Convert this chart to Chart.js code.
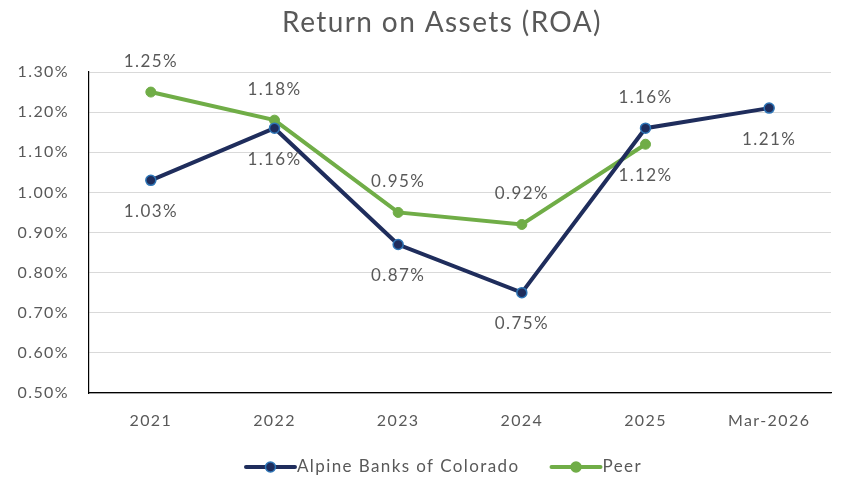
<!DOCTYPE html>
<html>
<head>
<meta charset="utf-8">
<script src="https://cdn.jsdelivr.net/npm/chart.js@4"></script>
<style>
  html, body { margin: 0; padding: 0; background: #fff; }
  #wrap { width: 852px; height: 481px; }
</style>
</head>
<body>
<div id="wrap"><canvas id="myChart" width="852" height="481"></canvas></div>
<script>
const labels = ['2021', '2022', '2023', '2024', '2025', 'Mar-2026'];
const alpine = [1.03, 1.16, 0.87, 0.75, 1.16, 1.21];
const peer = [1.25, 1.18, 0.95, 0.92, 1.12, null];

// label placement: -1 above the point, 1 below
const alpineLabelSide = [1, 1, 1, 1, -1, 1];
const peerLabelSide = [-1, -1, -1, -1, 1, 1];

const chartTitle = 'Return on Assets (ROA)';
const navy = '#1f2d5c';
const green = '#70ad47';
const grey = '#595959';
const font = 'Lato, "Open Sans", sans-serif';
const spacing = '1.4px';

// the original text is tracked out a little, canvas can do that too
const tracking = {
    id: 'tracking',
    beforeDraw(chart) {
        chart.ctx.letterSpacing = spacing;
    }
};

const pointLabels = {
    id: 'pointLabels',
    afterDatasetsDraw(chart) {
        const ctx = chart.ctx;
        ctx.save();
        ctx.letterSpacing = spacing;
        ctx.font = '17px ' + font;
        ctx.fillStyle = grey;
        ctx.textAlign = 'center';
        ctx.textBaseline = 'middle';
        chart.data.datasets.forEach((ds, i) => {
            const meta = chart.getDatasetMeta(i);
            const sides = i === 0 ? alpineLabelSide : peerLabelSide;
            meta.data.forEach((pt, j) => {
                const v = ds.data[j];
                if (v === null || v === undefined) return;
                ctx.fillText(v.toFixed(2) + '%', pt.x, pt.y + sides[j] * 31);
            });
        });
        ctx.restore();
    }
};

// title and legend drawn by hand so they sit where the original has them
const titleAndLegend = {
    id: 'titleAndLegend',
    afterDraw(chart) {
        const ctx = chart.ctx;
        ctx.save();
        ctx.letterSpacing = spacing;
        ctx.fillStyle = grey;
        ctx.textBaseline = 'middle';
        ctx.textAlign = 'center';
        ctx.font = '28px ' + font;
        ctx.fillText(chartTitle, 442, 23);

        ctx.font = '17px ' + font;
        ctx.textAlign = 'left';
        const y = 467;
        const iconW = 53;
        const gap = 30;
        const items = chart.data.datasets.map(ds => ({
            text: ds.label,
            line: ds.borderColor,
            dot: ds.pointBackgroundColor,
            edge: ds.pointBorderColor,
            w: ctx.measureText(ds.label).width,
        }));
        let total = items.reduce((s, it) => s + iconW + it.w, 0) + gap * (items.length - 1);
        let x = 443 - total / 2;
        items.forEach(it => {
            ctx.strokeStyle = it.line;
            ctx.lineWidth = 4;
            ctx.lineCap = 'round';
            ctx.beginPath();
            ctx.moveTo(x + 2, y);
            ctx.lineTo(x + iconW - 2, y);
            ctx.stroke();
            ctx.beginPath();
            ctx.arc(x + iconW / 2, y, 5, 0, Math.PI * 2);
            ctx.fillStyle = it.dot;
            ctx.fill();
            ctx.lineWidth = 1.5;
            ctx.strokeStyle = it.edge;
            ctx.stroke();
            ctx.fillStyle = grey;
            ctx.fillText(it.text, x + iconW, y);
            x += iconW + it.w + gap;
        });
        ctx.restore();
    }
};

const ctx = document.getElementById('myChart').getContext('2d');

const config = {
    type: 'line',
    data: {
        labels,
        datasets: [
            {
                label: 'Alpine Banks of Colorado',
                data: alpine,
                borderColor: navy,
                borderWidth: 4,
                backgroundColor: navy,
                pointBackgroundColor: navy,
                pointBorderColor: '#2e75b6',
                pointBorderWidth: 1.5,
                pointRadius: 5,
                tension: 0,
            },
            {
                label: 'Peer',
                data: peer,
                borderColor: green,
                borderWidth: 4,
                backgroundColor: green,
                pointBackgroundColor: green,
                pointBorderColor: green,
                pointBorderWidth: 1,
                pointRadius: 5,
                tension: 0,
            }
        ],
    },
    options: {
        responsive: false,
        animation: false,
        layout: { padding: { left: 10, right: 21, top: 72, bottom: 36 } },
        plugins: {
            title: { display: false },
            legend: { display: false },
            tooltip: { enabled: false },
        },
        scales: {
            x: {
                offset: true,
                grid: { display: false, drawTicks: false },
                border: { color: '#000', width: 1.2 },
                ticks: { color: grey, font: { family: font, size: 16 }, padding: 18 },
                afterFit: (s) => { s.height = 52; },
            },
            y: {
                min: 0.5,
                max: 1.3,
                grid: { color: '#d9d9d9', drawTicks: false },
                border: { color: '#000', width: 1.2 },
                ticks: {
                    stepSize: 0.1,
                    color: grey,
                    font: { family: font, size: 16 },
                    padding: 20,
                    callback: (v) => v.toFixed(2) + '%',
                },
                afterFit: (s) => { s.width = 79; },
            },
        },
    },
    plugins: [tracking, pointLabels, titleAndLegend],
};

const myChart = new Chart(ctx, config);
</script>
</body>
</html>
